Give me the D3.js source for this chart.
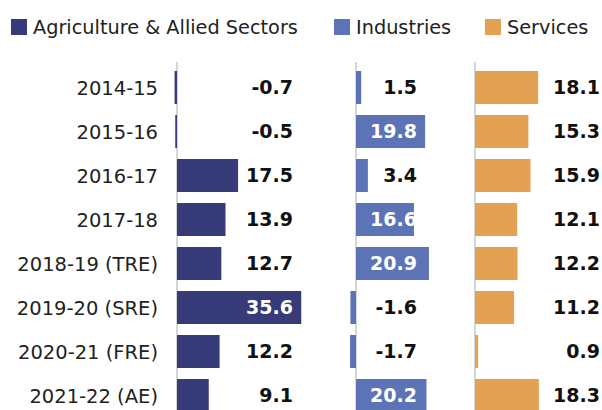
<!DOCTYPE html>
<html>
<head>
<meta charset="utf-8">
<script src="https://cdn.jsdelivr.net/npm/d3@7"></script>
<style>
  body { margin:0; background:#fff; }
  svg { font-family: "DejaVu Sans", "Noto Sans", sans-serif; }
</style>
</head>
<body>
<div id="container"></div>
<script>
var years = ['2014-15','2015-16','2016-17','2017-18','2018-19 (TRE)','2019-20 (SRE)','2020-21 (FRE)','2021-22 (AE)'];
var sectors = ['Agriculture & Allied Sectors','Industries','Services'];
var agriculture = [-0.7,-0.5,17.5,13.9,12.7,35.6,12.2,9.1];
var industries = [1.5,19.8,3.4,16.6,20.9,-1.6,-1.7,20.2];
var services = [18.1,15.3,15.9,12.1,12.2,11.2,0.9,18.3];

var w = 602, h = 410;
var colors = ['#373b78','#5c74b5','#e3a153'];
var series = [agriculture, industries, services];
var zeros = [177, 356, 475];     // x of each panel's zero line
var labelEnd = [293, 417, 600];  // right edge of value labels

var svg = d3.select('#container').append('svg')
	.attr('width', w).attr('height', h);

var y = d3.scaleBand()
	.domain(years)
	.range([65.5, 417.5])
	.paddingInner(0.25)
	.paddingOuter(0.125);

// same px per unit in all panels
var unit = d3.scaleLinear().domain([0, 10]).range([0, 34.9]);

//legend
var legendX = [11, 334, 485];
var leg = svg.selectAll('g.leg')
	.data(sectors)
	.enter().append('g')
	.attr('transform', function(d,i){ return 'translate(' + legendX[i] + ',19)'; });
leg.append('rect')
	.attr('width', 16).attr('height', 16)
	.attr('fill', function(d,i){ return colors[i]; });
leg.append('text')
	.attr('x', 22).attr('y', 15)
	.style('font-size', '19.3px')
	.attr('fill', '#222')
	.text(function(d){ return d; });

//category labels
svg.selectAll('text.cat')
	.data(years)
	.enter().append('text')
	.classed('cat', true)
	.attr('x', 158)
	.attr('y', function(d){ return y(d) + y.bandwidth()/2; })
	.attr('dy', '0.36em')
	.attr('text-anchor', 'end')
	.style('font-size', '19.5px')
	.attr('fill', '#222')
	.text(function(d){ return d; });

series.forEach(function(vals, p){
	var g = svg.append('g');
	var x0 = zeros[p];
	g.append('line')
		.attr('x1', x0).attr('x2', x0)
		.attr('y1', 62).attr('y2', h)
		.attr('stroke', '#c8c8c8').attr('stroke-width', 1.5);
	g.selectAll('rect')
		.data(vals)
		.enter().append('rect')
		.attr('x', function(d){ return d < 0 ? x0 + unit(d) : x0; })
		.attr('width', function(d){ return Math.abs(unit(d)); })
		.attr('y', function(d,i){ return y(years[i]); })
		.attr('height', y.bandwidth())
		.attr('fill', colors[p]);
	var lab = g.selectAll('text')
		.data(vals)
		.enter().append('text')
		.attr('x', labelEnd[p])
		.attr('y', function(d,i){ return y(years[i]) + y.bandwidth()/2; })
		.attr('dy', '0.36em')
		.attr('text-anchor', 'end')
		.style('font-size', '19px')
		.style('font-weight', 'bold')
		.text(function(d){ return d.toFixed(1); });
	lab.attr('fill', function(d){
		var tw = this.getComputedTextLength();
		var barEnd = x0 + unit(d);
		return barEnd > labelEnd[p] - tw ? '#fff' : '#111';
	});
});
</script>
</body>
</html>
